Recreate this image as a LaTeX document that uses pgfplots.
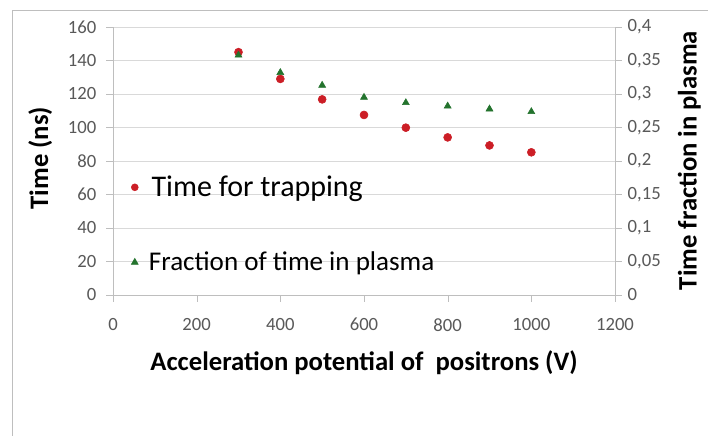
\documentclass[border=0pt]{standalone}
\usepackage{fontspec}
\setmainfont{Carlito}
\usepackage{pgfplots}
\pgfplotsset{compat=1.18}
\definecolor{tred}{RGB}{204,30,38}
\definecolor{tgreen}{RGB}{35,115,45}
\definecolor{tickgray}{RGB}{89,89,89}
\definecolor{gridgray}{RGB}{217,217,217}
\definecolor{axgray}{RGB}{190,190,190}
\begin{document}
\begin{tikzpicture}
\useasboundingbox (0,0) rectangle (531pt,-327pt);
\fill[white] (0,0) rectangle (531pt,-327pt);
\draw[axgray] (9pt,-327pt) -- (9pt,-7.5pt) -- (531pt,-7.5pt);
\begin{axis}[
  at={(84.75pt,-221.25pt)}, anchor=south west,
  scale only axis, width=376.5pt, height=201pt,
  xmin=0, xmax=1200, ymin=0, ymax=160,
  xtick={0,200,...,1200}, ytick={0,20,...,160},
  axis x line*=bottom, axis y line*=left,
  x axis line style={axgray,-}, y axis line style={axgray,-},
  ymajorgrids, grid style={gridgray},
  tick align=outside, major tick length=5pt, tick style={axgray},
  ticklabel style={font=\fontsize{14}{14}\selectfont, text=tickgray},
  xticklabel style={yshift=-9pt},
  yticklabel style={xshift=-4pt},
  /pgf/number format/assume math mode=true,
  /pgf/number format/1000 sep={},
  xlabel={\textbf{Acceleration potential of\ \ positrons (V)}},
  ylabel={\textbf{Time (ns)}},
  xlabel style={font=\fontsize{20}{20}\selectfont, at={(axis description cs:0.5,-0.254)}, anchor=center},
  ylabel style={font=\fontsize{20}{20}\selectfont, at={(axis description cs:-0.145,0.511)}, anchor=center},
]
\addplot[only marks, mark=*, mark size=3pt, tred] coordinates {
(300,145) (400,129) (500,116.8) (600,107.5) (700,99.9) (800,94.1) (900,89.3) (1000,85.2)
};
\end{axis}
\begin{axis}[
  at={(84.75pt,-221.25pt)}, anchor=south west,
  scale only axis, width=376.5pt, height=201pt,
  xmin=0, xmax=1200, ymin=0, ymax=0.4,
  ytick={0,0.05,...,0.4},
  axis x line=none, axis y line*=right,
  y axis line style={axgray,-},
  tick align=outside, major tick length=5pt, tick style={axgray},
  ticklabel style={font=\fontsize{14}{14}\selectfont, text=tickgray},
  yticklabel style={xshift=1pt},
  /pgf/number format/assume math mode=true,
  yticklabel={\pgfmathprintnumber[use comma, fixed, precision=2]{\tick}},
  ylabel={\textbf{Time fraction in plasma}},
  ylabel style={font=\fontsize{20}{20}\selectfont, at={(axis description cs:1.148,0.502)}, anchor=center, rotate=0},
  legend style={at={(axis description cs:0.028,0.465)}, anchor=north west, draw=none, fill=none, row sep=36pt},
  legend cell align=left,
]
\addlegendimage{only marks, mark=*, mark size=2.6pt, tred}
\addlegendentry{\hspace*{8pt}\fontsize{22.5}{22.5}\selectfont Time for trapping}
\addplot[only marks, mark=triangle*, mark size=3pt, tgreen] coordinates {
(300,0.358) (400,0.332) (500,0.313) (600,0.295) (700,0.287) (800,0.282) (900,0.2776) (1000,0.2736)
};
\addlegendentry{\hspace*{6pt}\fontsize{20.3}{20.3}\selectfont Fraction of time in plasma}
\end{axis}
\end{tikzpicture}
\end{document}
